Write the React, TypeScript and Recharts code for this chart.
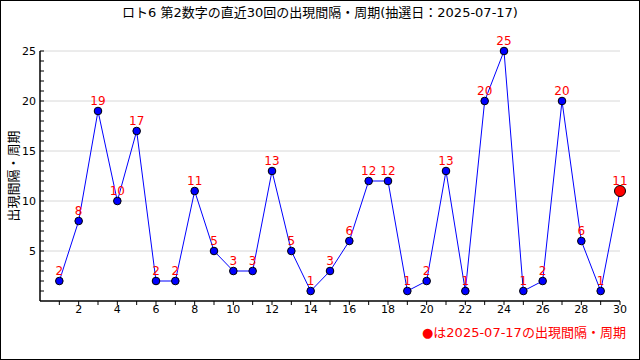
import { LineChart, Line, XAxis, YAxis, CartesianGrid, LabelList } from "recharts";

const draws = Array.from({ length: 30 }, (_, i) => i + 1);
const gaps = [2, 8, 19, 10, 17, 2, 2, 11, 5, 3, 3, 13, 5, 1, 3, 6, 12, 12, 1, 2, 13, 1, 20, 25, 1, 2, 20, 6, 1, 11];
const xTicks = draws;
const yTicks = Array.from({ length: 25 }, (_, i) => i + 1);
const gridValues = [5, 10, 15, 20, 25];

const title = "ロト6 第2数字の直近30回の出現間隔・周期(抽選日：2025-07-17)";
const yTitle = "出現間隔・周期";
const note = "●は2025-07-17の出現間隔・周期";

const data = draws.map((d, i) => ({ draw: d, gap: gaps[i] }));
const font = "'DejaVu Sans', 'Noto Sans CJK JP', sans-serif";

const Dot = (p: any) => {
  const last = p.index === data.length - 1;
  return (
    <circle
      key={p.index}
      cx={p.cx}
      cy={p.cy}
      r={last ? 5.5 : 3.8}
      fill={last ? "#ff0000" : "#0000ff"}
      stroke="#000"
      strokeWidth={1}
    />
  );
};

const XTick = (p: any) => {
  const v = p.payload.value;
  if (v % 2 !== 0) return <g />;
  return (
    <text x={p.x} y={p.y + 6} textAnchor="middle" fontSize={11} fontFamily={font} fill="#000">
      {v}
    </text>
  );
};

const YTick = (p: any) => {
  const v = p.payload.value;
  if (v % 5 !== 0) return <g />;
  return (
    <text x={p.x} y={p.y + 4} textAnchor="end" fontSize={11} fontFamily={font} fill="#000">
      {v}
    </text>
  );
};

export default function App() {
  return (
    <div
      style={{
        position: "fixed",
        left: 0,
        top: 0,
        width: 640,
        height: 360,
        border: "1px solid #000",
        boxSizing: "border-box",
        background: "#fff",
        fontFamily: font,
      }}
    >
      <div style={{ position: "absolute", left: 0, top: 1, width: 638, textAlign: "center", fontSize: 13 }}>
        {title}
      </div>
      <div
        style={{
          position: "absolute",
          left: 11,
          top: 175,
          transform: "translate(-50%, -50%) rotate(-90deg)",
          fontSize: 13,
          whiteSpace: "nowrap",
        }}
      >
        {yTitle}
      </div>
      <div style={{ position: "absolute", left: 421, top: 321, fontSize: 13, color: "#ff0000", whiteSpace: "nowrap" }}>
        {note}
      </div>
      <div style={{ position: "absolute", left: -1, top: -1 }}>
        <LineChart width={640} height={360} data={data} margin={{ top: 51, right: 20, bottom: 29, left: 0 }}>
          <CartesianGrid vertical={false} horizontalValues={gridValues} stroke="#d8d8d8" />
          <XAxis
            dataKey="draw"
            type="number"
            domain={[0, 30]}
            ticks={xTicks}
            interval={0}
            height={30}
            tickSize={4}
            tick={<XTick />}
            stroke="#000"
            axisLine={{ stroke: "#000", strokeWidth: 1.5 }}
          />
          <YAxis
            type="number"
            domain={[0, 25]}
            ticks={yTicks}
            interval={0}
            width={40}
            tickSize={-4}
            tickMargin={8}
            tick={<YTick />}
            stroke="#000"
            axisLine={{ stroke: "#000", strokeWidth: 1.5 }}
          />
          <Line
            dataKey="gap"
            stroke="#0000ff"
            strokeWidth={1}
            dot={Dot}
            activeDot={false}
            isAnimationActive={false}
          >
            <LabelList dataKey="gap" position="top" offset={6} fill="#ff0000" fontSize={12} fontFamily={font} />
          </Line>
        </LineChart>
      </div>
    </div>
  );
}
